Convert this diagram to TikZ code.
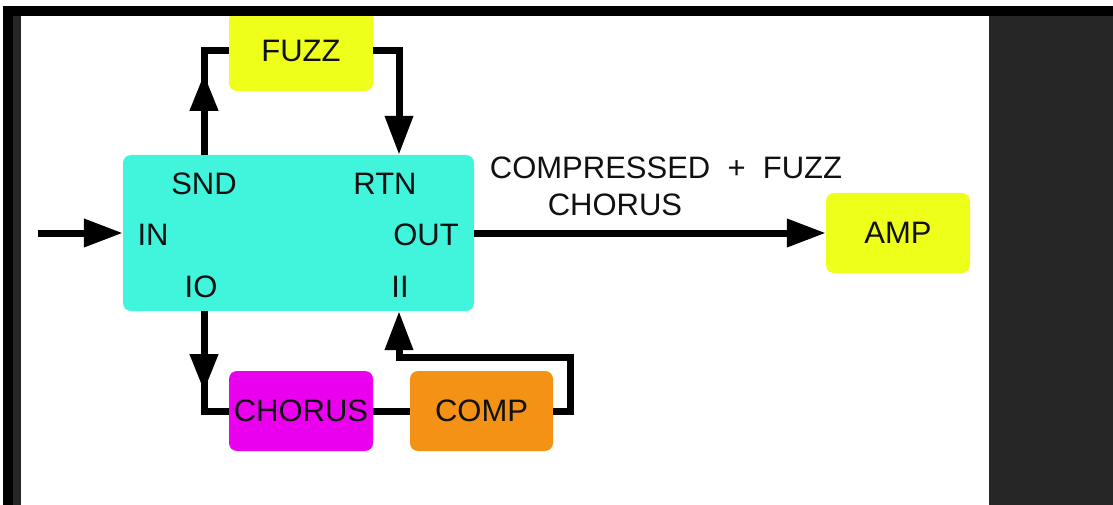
\documentclass[tikz,border=0pt]{standalone}
\usepackage{fontspec}
\setmainfont{Liberation Sans}
\usetikzlibrary{arrows.meta,decorations.markings}

\definecolor{boxcyan}{RGB}{64,245,220}
\definecolor{boxyellow}{RGB}{238,255,25}
\definecolor{boxmagenta}{RGB}{234,0,238}
\definecolor{boxorange}{RGB}{243,146,20}
\definecolor{panelgray}{RGB}{38,38,38}
\definecolor{ink}{RGB}{17,17,17}

\tikzset{
  labelfont/.style={font=\fontsize{31}{35}\selectfont},
  unit/.style={rounded corners=8pt, inner sep=0pt, text=ink, labelfont},
  pedal/.style={unit, minimum width=144pt, minimum height=80pt},
  port/.style={inner sep=0pt, text=ink, labelfont},
  tag/.style={inner sep=0pt, text=ink, labelfont},
  wire/.style={line width=7pt, black},
  tip/.style={-{Triangle[length=39pt,width=27pt]}},
  midtip/.style={postaction={decorate}, decoration={markings,
    mark=at position #1 with {\arrow{Triangle[length=37pt,width=27pt]}}}}
}

\begin{document}
\begin{tikzpicture}[x=1pt, y=-1pt]
\useasboundingbox (0,0) rectangle (1113,505);
\fill[white] (0,0) rectangle (1113,505);

% effect units
\node[pedal, fill=boxyellow] (fuzz) at (301,51) {FUZZ};
\node[unit, fill=boxcyan, minimum width=351pt, minimum height=156pt] (main) at (298.5,233) {};
\node[pedal, fill=boxmagenta] (chorus) at (301,411) {CHORUS};
\node[pedal, fill=boxorange, minimum width=143pt] (comp) at (481.5,411) {COMP};
\node[pedal, fill=boxyellow] (amp) at (898,233) {AMP};

% loop labels on the switcher
\node[port] (snd) at (204,184) {SND};
\node[port] (rtn) at (385,184) {RTN};
\node[port] (in)  at (153,235) {IN};
\node[port] (out) at (426,235) {OUT};
\node[port] (io)  at (201,287) {IO};
\node[port] (ii)  at (400,287) {II};

% signal description
\node[tag] (sig1) at (666,168) {COMPRESSED\ \ +\ \ FUZZ};
\node[tag] (sig2) at (615,205) {CHORUS};

% wire columns and free ends
\coordinate (lt) at (204,0);
\coordinate (rt) at (399,0);
\coordinate (src) at (38,233);
\coordinate (loop) at (570,357);

% input
\draw[wire, tip] (src) -- (main.west);
% send to fuzz, fuzz back to return
\draw[wire, midtip=81pt] (main.north -| lt) |- (fuzz.west);
\draw[wire, tip] (fuzz.east) -| (main.north -| rt);
% second loop: chorus then compressor
\draw[wire, midtip=80pt] (main.south -| lt) |- (chorus.west);
\draw[wire] (chorus.east) -- (comp.west);
\draw[wire, tip] (comp.east) -| (loop) -| (main.south -| rt);
% output to amp
\draw[wire, tip] (main.east) -- (amp.west);

% window frame
\fill[black] (3,6) rectangle (1113,16);
\fill[black] (3,6) rectangle (13,505);
\fill[panelgray] (13,16) rectangle (21,505);
\fill[panelgray] (989,16) rectangle (1113,505);
\end{tikzpicture}
\end{document}
